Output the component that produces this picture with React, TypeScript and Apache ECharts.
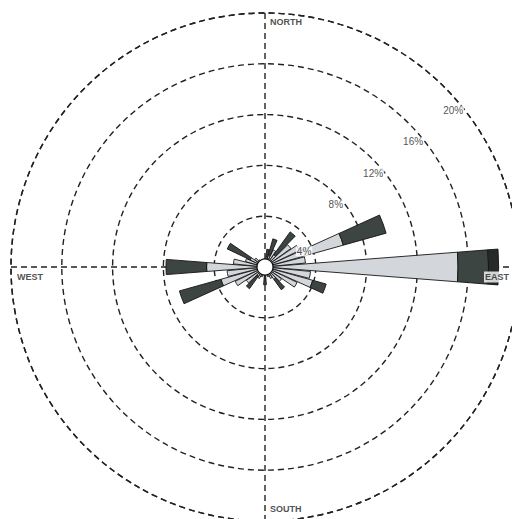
import React, { useEffect, useRef } from "react";
import * as echarts from "echarts";

// Wind directions (compass bearing, degrees), 10° sectors
const BEARINGS = [
  "0", "10", "20", "30", "40", "50", "60", "70", "80",
  "90", "100", "110", "120", "130", "140", "150", "160", "170",
  "180", "190", "200", "210", "220", "230", "240", "250", "260",
  "270", "280", "290", "300", "310", "320", "330", "340", "350",
];

// Frequency (%) per speed class, stacked outward
const LIGHT = [
  0.6, 0.8, 1.0, 1.5, 1.2, 2.5, 3.0, 6.4, 3.2,
  15.2, 3.6, 3.9, 2.8, 1.6, 1.2, 1.0, 0.8, 0.6,
  0.5, 0.6, 0.8, 1.0, 0.9, 1.8, 2.6, 3.6, 3.0,
  4.6, 2.5, 1.6, 1.3, 1.0, 0.7, 0.6, 0.5, 0.5,
];
const MODERATE = [
  0, 0.6, 1.3, 0, 2.2, 0, 0, 3.5, 0,
  2.4, 0, 1.1, 0, 0, 1.0, 0, 0, 0,
  0.9, 0, 0, 0, 1.2, 0, 0, 3.4, 0,
  3.2, 0, 0, 2.0, 0, 0, 0, 0, 0,
];
const STRONG = [
  0, 0, 0, 0, 0, 0, 0, 0, 0,
  0.8, 0, 0, 0, 0, 0, 0, 0, 0,
  0, 0, 0, 0, 0, 0, 0, 0, 0,
  0, 0, 0, 0, 0, 0, 0, 0, 0,
];

// Ring ticks (%)
const RING_TICKS = [4, 8, 12, 16, 20];
const RING_MAX = 20;
const COMPASS = ["NORTH", "EAST", "SOUTH", "WEST"];
const COMPASS_BEARINGS = [0, 90, 180, 270];

export default function App() {
  const ref = useRef<HTMLDivElement>(null);

  useEffect(() => {
    if (!ref.current) return;
    const chart = echarts.init(ref.current, undefined, { renderer: "svg" });
    const center = [265, 267];
    const radius = 254;
    const dash = { type: [6, 4] as any, color: "#222", width: 1.4 };
    const font = "Liberation Sans, Arial, sans-serif";
    const nz = (a: number[]) => a.map((v) => (v > 0 ? v : null));
    const labelBearing = (t: number) => (t === 4 ? 72 : 52);

    const compassLabelCfg: any[] = [
      { position: "right", distance: 5, offset: [0, 9] },
      { position: "left", distance: 9, offset: [0, 10], backgroundColor: "#fff", padding: [1, 1] },
      { position: "right", distance: 5, offset: [0, -12] },
      { position: "right", distance: 6, offset: [0, 10] },
    ];

    chart.setOption({
      animation: false,
      backgroundColor: "#ffffff",
      polar: [
        { center, radius },
        { center, radius },
      ],
      angleAxis: [
        {
          polarIndex: 0,
          type: "value",
          min: 0,
          max: 360,
          interval: 90,
          startAngle: 90,
          clockwise: true,
          axisLine: { show: true, lineStyle: dash },
          axisTick: { show: false },
          axisLabel: { show: false },
          splitLine: { show: true, lineStyle: dash },
        },
        {
          polarIndex: 1,
          type: "category",
          data: BEARINGS,
          startAngle: 95,
          clockwise: true,
          boundaryGap: true,
          axisLine: { show: false },
          axisTick: { show: false },
          axisLabel: { show: false },
          splitLine: { show: false },
        },
      ],
      radiusAxis: [
        {
          polarIndex: 0,
          type: "value",
          min: 0,
          max: RING_MAX,
          interval: 4,
          axisLine: { show: false },
          axisTick: { show: false },
          axisLabel: { show: false },
          splitLine: { show: true, lineStyle: dash },
        },
        {
          polarIndex: 1,
          type: "value",
          min: 0,
          max: RING_MAX,
          axisLine: { show: false },
          axisTick: { show: false },
          axisLabel: { show: false },
          splitLine: { show: false },
        },
      ],
      series: [
        {
          name: "light",
          type: "bar",
          coordinateSystem: "polar",
          polarIndex: 1,
          stack: "wind",
          barCategoryGap: "12%",
          data: nz(LIGHT),
          itemStyle: { color: "#d3d6db", borderColor: "#151515", borderWidth: 0.9 },
          z: 3,
        },
        {
          name: "moderate",
          type: "bar",
          coordinateSystem: "polar",
          polarIndex: 1,
          stack: "wind",
          barCategoryGap: "12%",
          data: nz(MODERATE),
          itemStyle: { color: "#3c4542", borderColor: "#151515", borderWidth: 0.9 },
          z: 3,
        },
        {
          name: "strong",
          type: "bar",
          coordinateSystem: "polar",
          polarIndex: 1,
          stack: "wind",
          barCategoryGap: "12%",
          data: nz(STRONG),
          itemStyle: { color: "#262b29", borderColor: "#151515", borderWidth: 0.9 },
          z: 3,
        },
        {
          name: "ringLabels",
          type: "scatter",
          coordinateSystem: "polar",
          polarIndex: 0,
          symbolSize: 0,
          silent: true,
          data: RING_TICKS.map((t) => [t, labelBearing(t)]),
          label: {
            show: true,
            position: "left",
            distance: 1,
            formatter: (p: any) => `${p.value[0]}%`,
            color: "#222",
            fontSize: 10,
            fontFamily: font,
            backgroundColor: "#fff",
            padding: [0, 1],
          },
          z: 7,
        },
        {
          name: "compass",
          type: "scatter",
          coordinateSystem: "polar",
          polarIndex: 0,
          symbolSize: 0,
          silent: true,
          data: COMPASS.map((name, i) => ({
            value: [RING_MAX, COMPASS_BEARINGS[i]],
            label: compassLabelCfg[i],
            name,
          })),
          label: {
            show: true,
            formatter: (p: any) => p.name,
            color: "#222",
            fontSize: 9,
            fontWeight: "bold",
            fontFamily: font,
          },
          z: 6,
        },
        {
          name: "calm",
          type: "scatter",
          coordinateSystem: "polar",
          polarIndex: 0,
          silent: true,
          symbol: "circle",
          symbolSize: 16,
          data: [[0, 0]],
          itemStyle: { color: "#ffffff", borderColor: "#111", borderWidth: 1.2, opacity: 1 },
          z: 5,
        },
      ],
    });
    return () => chart.dispose();
  }, []);

  return (
    <div
      ref={ref}
      style={{ position: "fixed", left: 0, top: 0, width: 512, height: 519, background: "#fff" }}
    />
  );
}
